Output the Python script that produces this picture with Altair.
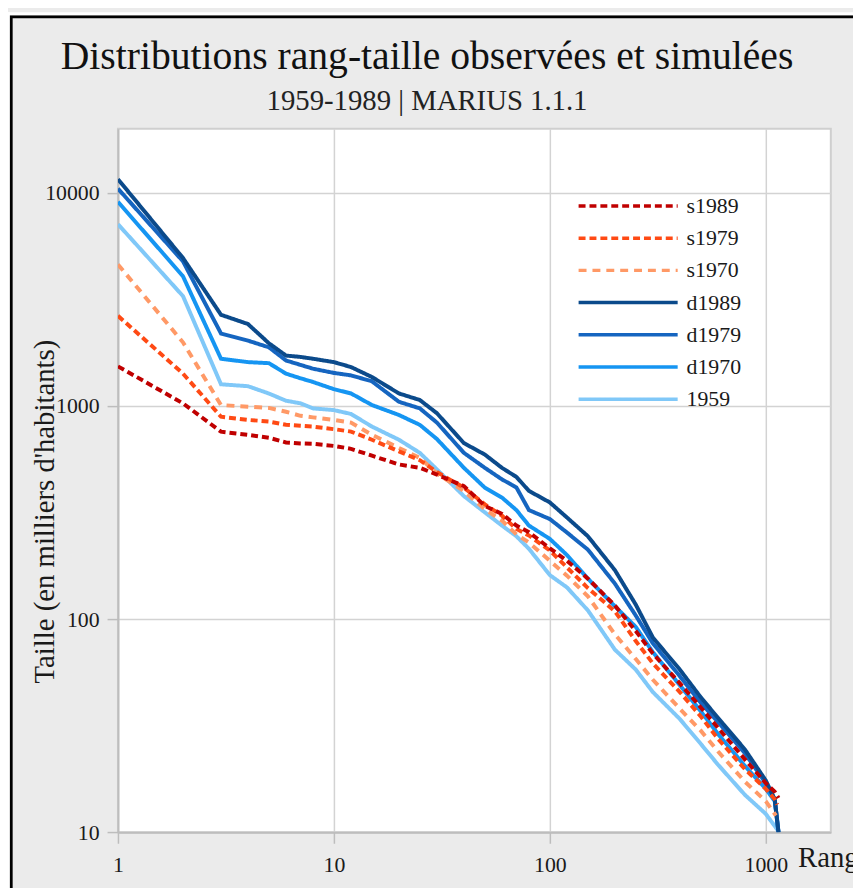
import altair as alt
import pandas as pd

# ---- data (rank -> size, thousands of inhabitants) ----
RANKS = [1, 2, 3, 4, 5, 6, 7, 8, 10, 12, 15, 20, 25, 30, 40, 50, 60, 70, 80,
         100, 120, 150, 200, 250, 300, 400, 500, 600, 800, 1000, 1100]
LAST_RANK = {"s1989": 1145, "s1979": 1130, "s1970": 1115,
             "d1989": 1145, "d1979": 1145, "d1970": 1145, "1959": 1130}

S1989 = [1535, 1030, 758, 733, 710, 675, 668, 665, 650, 630, 585, 532, 513, 477, 421, 340, 312, 275, 256,
         215, 188, 155, 116, 88, 69, 50, 38.5, 31, 22, 17, 15.5, 14.5]
S1979 = [2650, 1420, 891, 861, 846, 817, 808, 801, 779, 759, 695, 613, 557, 490, 414, 346, 306, 265, 247,
         210, 175, 140, 109, 79, 62, 45.5, 35, 27.5, 19.8, 16, 14.3, 13.5]
S1970 = [4615, 1991, 1011, 993, 980, 940, 900, 885, 861, 836, 733, 636, 571, 483, 399, 328, 290, 250, 229,
         188, 160, 128, 85, 65, 52, 38, 30, 24, 17.3, 14, 12.2, 12]
D1989 = [11600, 4950, 2680, 2425, 1970, 1725, 1700, 1667, 1607, 1524, 1368, 1146, 1067, 925, 670, 592, 513, 465, 400,
         353, 300, 245, 170, 117, 82, 58, 43, 34.5, 24.5, 17.5, 14.3, 10]
D1979 = [10470, 4775, 2190, 2027, 1886, 1636, 1560, 1497, 1430, 1393, 1306, 1047, 975, 836, 603, 513, 453, 415, 325,
         295, 255, 212, 147, 104, 77, 54, 40.5, 33, 23.5, 17, 14.3, 10]
D1970 = [9080, 4065, 1667, 1607, 1589, 1419, 1350, 1297, 1200, 1146, 1011, 908, 816, 700, 513, 414, 372, 325, 275,
         238, 200, 155, 115, 92, 70, 49, 37, 29, 20.5, 16, 14, 10]
Y1959 = [7130, 3280, 1265, 1239, 1145, 1059, 1030, 975, 957, 918, 801, 695, 603, 504, 378, 317, 275, 245, 214,
         161, 141, 110, 72, 58, 45.5, 34, 26, 20.8, 15, 12.2, 10.7, 10.3]

SERIES = {"s1989": S1989, "s1979": S1979, "s1970": S1970,
          "d1989": D1989, "d1979": D1979, "d1970": D1970, "1959": Y1959}
LEGEND_ORDER = ["s1989", "s1979", "s1970", "d1989", "d1979", "d1970", "1959"]
DRAW_ORDER = ["1959", "d1970", "d1979", "d1989", "s1970", "s1979", "s1989"]
COLORS = ["#c00000", "#ff4a14", "#ff9966", "#0b4a8b", "#1565c0", "#1595f2", "#80c8f8"]
DASHES = [[7, 4], [7, 4], [8, 6], [1, 0], [1, 0], [1, 0], [1, 0]]

X_TICKS = [1, 10, 100, 1000]
Y_TICKS = [10, 100, 1000, 10000]

TITLE = "Distributions rang-taille observées et simulées"
SUBTITLE = "1959-1989 | MARIUS 1.1.1"

rows = []
for name in DRAW_ORDER:
    ranks = RANKS + [LAST_RANK[name]]
    for r, v in zip(ranks, SERIES[name]):
        rows.append({"serie": name, "rang": r, "taille": v})
df = pd.DataFrame(rows)

W, H = 719.6, 710.3
PAD_L, PAD_T = 111, 117.7
CANVAS_W, CANVAS_H = 853, 880
FONT = "Liberation Serif"

legend = alt.Legend(
    title=None, orient="none", legendX=503, legendY=66, padding=0,
    symbolType="M-5,0H5", symbolSize=400, symbolStrokeWidth=3.5,
    labelFont=FONT, labelFontSize=22, labelColor="#1a1a1a", labelOffset=47,
    rowPadding=9.5,
)

lines = alt.Chart(df).mark_line(strokeWidth=4, clip=True).encode(
    x=alt.X("rang:Q",
            scale=alt.Scale(type="log", domain=[1, 2000], nice=False),
            axis=alt.Axis(values=X_TICKS, format="d", title="Rang",
                          titleX=686, titleY=25, titleAlign="left", titleBaseline="middle",
                          labelPadding=12, labelFlush=False)),
    y=alt.Y("taille:Q",
            scale=alt.Scale(type="log", domain=[10, 20000], nice=False),
            axis=alt.Axis(values=Y_TICKS, format="d", title="Taille (en milliers d'habitants)",
                          titleX=-74, titleY=386, titleAngle=270, titleAlign="center",
                          titleBaseline="middle", labelPadding=8)),
    color=alt.Color("serie:N", scale=alt.Scale(domain=LEGEND_ORDER, range=COLORS), legend=legend),
    strokeDash=alt.StrokeDash("serie:N", scale=alt.Scale(domain=LEGEND_ORDER, range=DASHES), legend=legend),
)

one = pd.DataFrame({"k": [0]})


def deco(x, x2, y, y2, **kw):
    return alt.Chart(one).mark_rect(clip=False, **kw).encode(
        x=alt.value(x), x2=alt.value(x2), y=alt.value(y), y2=alt.value(y2))


def label(text, x, y, size, color):
    return alt.Chart(one).mark_text(
        text=text, font=FONT, fontSize=size, align="center", baseline="alphabetic",
        color=color, clip=False).encode(x=alt.value(x), y=alt.value(y))


frame = deco(-PAD_L + 3.2, CANVAS_W + 20, -PAD_T + 4.7, CANVAS_H + 20,
             fill="#ebebeb", fillOpacity=0, stroke="black", strokeWidth=3)
strip_top = deco(-PAD_L, CANVAS_W, -PAD_T, -PAD_T + 3.2, fill="#ffffff", fillOpacity=1)
strip_left = deco(-PAD_L, -PAD_L + 1.7, -PAD_T, CANVAS_H, fill="#ffffff", fillOpacity=1)
title = label(TITLE, 312, -60.7, 40, "#111111")
subtitle = label(SUBTITLE, 312, -18.7, 29, "#222222")

chart = alt.layer(frame, strip_top, strip_left, title, subtitle, lines).properties(
    width=W, height=H,
    padding={"left": PAD_L, "top": PAD_T,
             "right": CANVAS_W - PAD_L - W, "bottom": CANVAS_H - PAD_T - H},
    autosize=alt.AutoSizeParams(type="none"),
    background="#ebebeb",
).configure_view(
    fill="white", stroke="#cfcfcf", strokeWidth=2
).configure_axis(
    domainColor="#bdbdbd", domainWidth=2, tickColor="#bdbdbd", tickWidth=1.5, tickSize=11,
    gridColor="#d3d3d3", gridWidth=1.5,
    labelFont=FONT, labelFontSize=22, labelColor="#1a1a1a",
    titleFont=FONT, titleFontSize=29, titleFontWeight="normal", titleColor="#1a1a1a",
)

chart.save("out.html", embed_options={"renderer": "svg", "actions": False})
